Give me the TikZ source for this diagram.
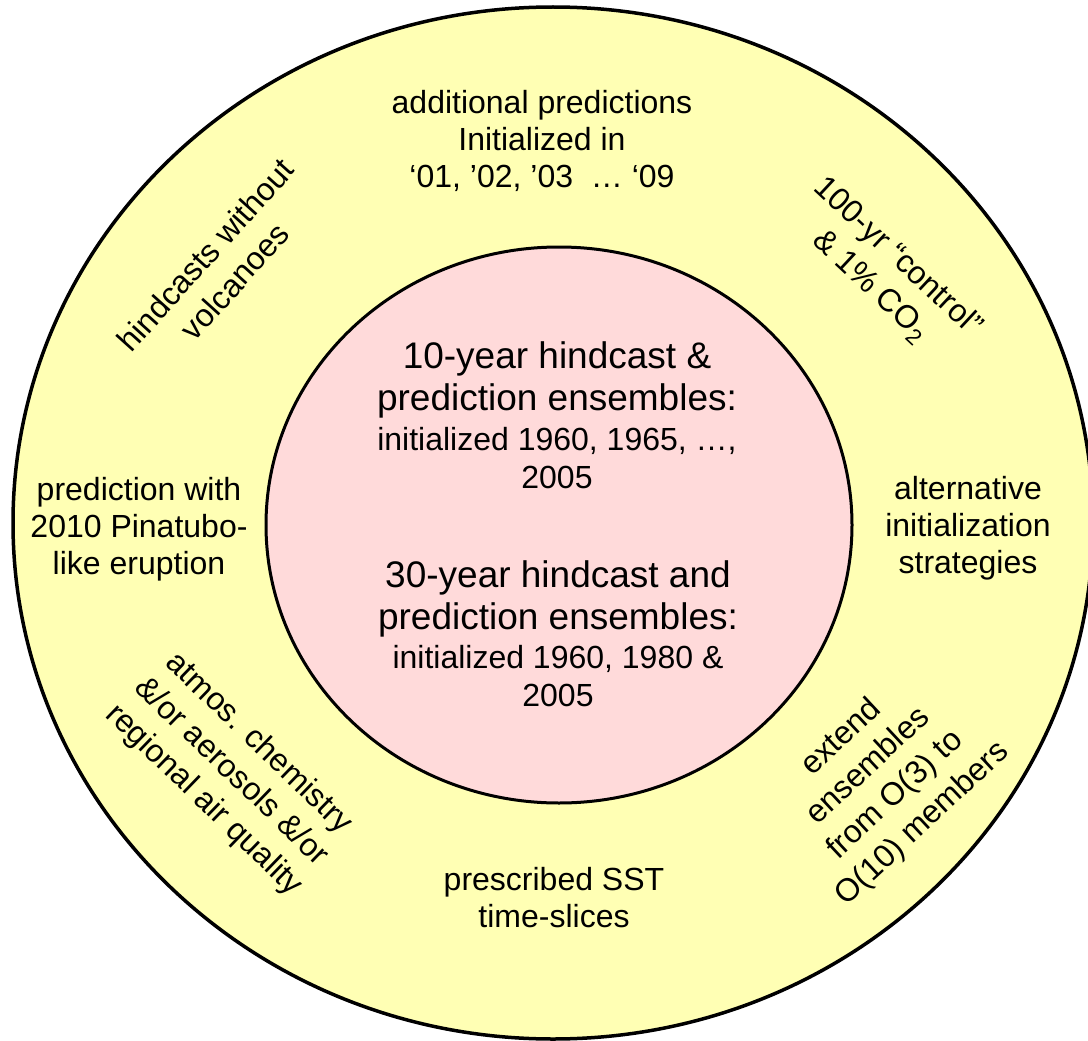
\documentclass[tikz,border=0pt]{standalone}
\usepackage{fontspec}
\setmainfont{Liberation Sans}
\definecolor{ringyellow}{HTML}{FFFFB4}
\definecolor{corepink}{HTML}{FFDADA}
\begin{document}
\begin{tikzpicture}[x=1pt,y=-1pt,
  lbl/.style={align=center, inner sep=0pt, font=\fontsize{32}{37}\selectfont},
  rotlbl/.style={align=center, inner sep=0pt, font=\fontsize{32}{39.5}\selectfont},
  biglbl/.style={align=center, inner sep=0pt, font=\fontsize{37}{41.5}\selectfont},
  smalllbl/.style={align=center, inner sep=0pt, font=\fontsize{32}{37.5}\selectfont}]
\useasboundingbox (0,0) rectangle (1088,1041);
\fill[white] (0,0) rectangle (1088,1041);
\draw[line width=3.5pt, fill=ringyellow] (553,523) ellipse [x radius=540pt, y radius=516pt];
\draw[line width=3pt, fill=corepink] (559,525) ellipse [x radius=293pt, y radius=278pt];

% inner texts
\node[biglbl] (tenA) at (557,380) {10-year hindcast \&\\prediction ensembles:};
\node[smalllbl] (tenB) at (557,458) {initialized 1960, 1965, …,\\2005};
\node[biglbl] (thirtyA) at (558,599) {30-year hindcast and\\prediction ensembles:};
\node[smalllbl] (thirtyB) at (558,676) {initialized 1960, 1980 \&\\2005};

% outer ring texts
\node[lbl] (additional) at (542,141) {additional predictions\\Initialized in\\‘01, ’02, ’03\ \ … ‘09};
\node[lbl] (alternative) at (968,528) {alternative\\initialization\\strategies};
\node[lbl] (pinatubo) at (139,529) {prediction with\\2010 Pinatubo-\\like eruption};
\node[lbl] (sst) at (554,898) {prescribed SST\\time-slices};
\node[rotlbl, rotate=48] (volcanoes) at (220,268) {hindcasts without\\volcanoes};
\node[rotlbl, rotate=-43] (control) at (884,272) {100-yr “control”\\\& 1\% CO\textsubscript{2}};
\node[rotlbl, rotate=-44] (chemistry) at (231,772) {atmos. chemistry\\\&/or aerosols \&/or\\regional air quality};
\node[rotlbl, rotate=43] (ensembles) at (882,781) {extend\\ensembles\\from O(3) to\\O(10) members};
\end{tikzpicture}
\end{document}
